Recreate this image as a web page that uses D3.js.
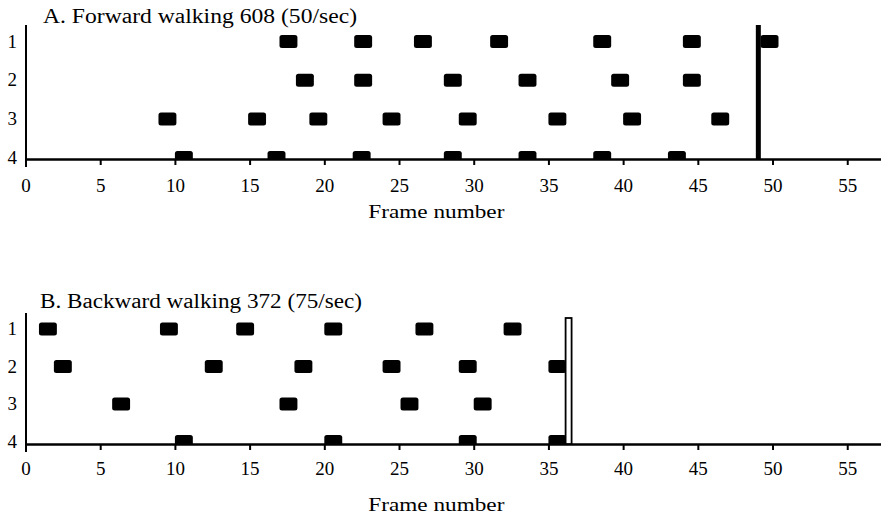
<!DOCTYPE html>
<html>
<head>
  <meta charset="utf-8">
  <style>
    body { margin: 0; background: #fff; }
    text { font-family: "Liberation Serif", "DejaVu Serif", serif; fill: #000; }
  </style>
  <title>Stepping pattern, forward and backward walking</title>
</head>
<body>
  <script src="https://cdn.jsdelivr.net/npm/d3@7/dist/d3.min.js"></script>
  <script>
    // size of the page
    var width = 881
    var height = 519

    // tick labels and leg numbers
    var frameTicks = [0, 5, 10, 15, 20, 25, 30, 35, 40, 45, 50, 55]
    var legs = [1, 2, 3, 4]

    // start frame of each stance mark, forward walking (panel A)
    var forwardLeg1 = [17, 22, 26, 31.1, 38, 44, 49.2]
    var forwardLeg2 = [18.1, 22, 28, 33, 39.2, 44]
    var forwardLeg3 = [8.9, 14.9, 19, 23.9, 29, 35, 40, 45.9]
    var forwardLeg4 = [10, 16.2, 21.9, 28, 33, 38, 43]
    var forwardEnd = 49.05

    // start frame of each stance mark, backward walking (panel B)
    var backwardLeg1 = [0.9, 9, 14.1, 20, 26.1, 32]
    var backwardLeg2 = [1.9, 12, 18, 23.9, 29, 35]
    var backwardLeg3 = [5.8, 17, 25.1, 30]
    var backwardLeg4 = [10, 20, 29, 35]
    var backwardEnd = 36.35

    var markFrames = 1.2   // length of one mark in frames

    var svg = d3.select("body").append("svg")
      .attr("width", width)
      .attr("height", height)

    // shared x scale for frame number
    var x = d3.scaleLinear().domain([0, 57.26]).range([25.5, width])

    function panel(p) {
      var g = svg.append("g")
      var y = d3.scalePoint().domain(legs).range([p.rowTop, p.rowBottom])

      // clip marks at the x axis
      g.append("clipPath").attr("id", p.id + "_clip")
        .append("rect").attr("x", 0).attr("y", 0).attr("width", width).attr("height", p.axisY)

      // marks
      var marks = []
      p.rows.forEach(function (r, i) {
        r.forEach(function (f) { marks.push({leg: legs[i], frame: f}) })
      })
      g.append("g").attr("clip-path", "url(#" + p.id + "_clip)")
        .selectAll("rect")
        .data(marks)
        .enter()
        .append("rect")
        .attr("x", function (d) { return x(d.frame) })
        .attr("y", function (d) { return y(d.leg) - 6.5 })
        .attr("width", function (d) { return x(d.frame + markFrames) - x(d.frame) })
        .attr("height", 13)
        .attr("rx", 2.5)
        .attr("fill", "#000")

      // x axis
      var xAxis = d3.axisBottom(x).tickValues(frameTicks).tickSize(6).tickSizeOuter(0)
      var ax = g.append("g")
        .attr("transform", "translate(0," + p.axisY + ")")
        .call(xAxis)
      ax.select(".domain").attr("stroke", "#000").attr("stroke-width", 2.5)
      ax.selectAll(".tick line").attr("stroke", "#000").attr("stroke-width", 2)
      ax.selectAll(".tick text")
        .attr("y", p.tickBase - p.axisY)
        .attr("dy", 0)
        .style("font-family", '"Liberation Serif", serif')
        .style("font-size", "19px")
        .attr("fill", "#000")

      // y axis (leg numbers)
      g.append("line")
        .attr("x1", 26).attr("x2", 26)
        .attr("y1", p.spineTop).attr("y2", p.spineBottom)
        .attr("stroke", "#000").attr("stroke-width", 2)
      g.selectAll(".leg")
        .data(legs)
        .enter()
        .append("text")
        .attr("class", "leg")
        .attr("x", 17)
        .attr("y", function (d) { return y(d) + 6 })
        .attr("text-anchor", "end")
        .style("font-size", "19px")
        .text(function (d) { return d })

      // end of cycle marker
      if (p.solidEnd) {
        g.append("line")
          .attr("x1", x(p.end)).attr("x2", x(p.end))
          .attr("y1", p.endTop).attr("y2", p.axisY)
          .attr("stroke", "#000").attr("stroke-width", 5)
      } else {
        g.append("rect")
          .attr("x", x(p.end) - 3).attr("y", p.endTop)
          .attr("width", 6).attr("height", p.axisY - p.endTop)
          .attr("fill", "#fff").attr("stroke", "#000").attr("stroke-width", 1.8)
      }

      // titles
      g.append("text")
        .attr("x", p.titleX)
        .attr("y", p.titleY)
        .attr("textLength", p.titleLen)
        .attr("lengthAdjust", "spacingAndGlyphs")
        .style("font-size", "20px")
        .text(p.title)

      g.append("text")
        .attr("x", (x(0) + x(55)) / 2)
        .attr("y", p.labelBase)
        .attr("text-anchor", "middle")
        .attr("textLength", 136)
        .attr("lengthAdjust", "spacingAndGlyphs")
        .style("font-size", "19px")
        .text("Frame number")
    }

    panel({
      id: "a", title: "A.  Forward walking 608 (50/sec)",
      rows: [forwardLeg1, forwardLeg2, forwardLeg3, forwardLeg4],
      end: forwardEnd, solidEnd: true, endTop: 25,
      titleX: 43, titleY: 23, titleLen: 314,
      rowTop: 41.5, rowBottom: 157.6, axisY: 159,
      spineTop: 25, spineBottom: 167, tickBase: 192, labelBase: 218
    })

    panel({
      id: "b", title: "B.  Backward walking 372 (75/sec)",
      rows: [backwardLeg1, backwardLeg2, backwardLeg3, backwardLeg4],
      end: backwardEnd, solidEnd: false, endTop: 318,
      titleX: 40, titleY: 308, titleLen: 322,
      rowTop: 329, rowBottom: 441.5, axisY: 444,
      spineTop: 313, spineBottom: 452, tickBase: 475, labelBase: 511
    })
  </script>
</body>
</html>
